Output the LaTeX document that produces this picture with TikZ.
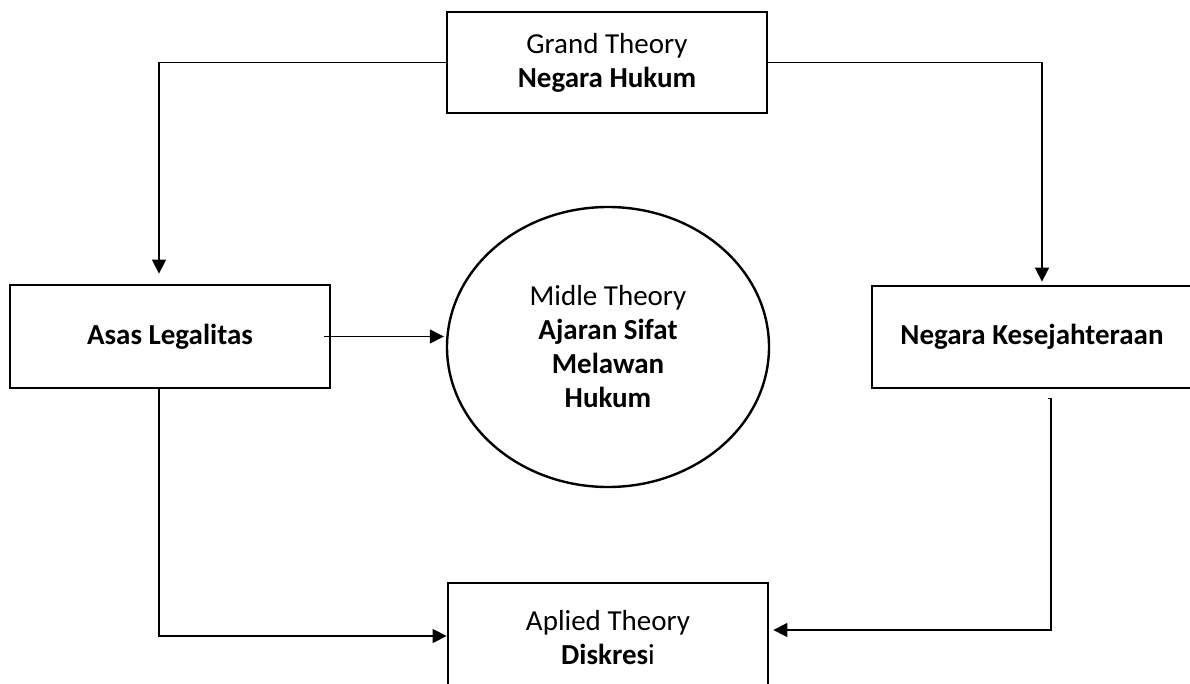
\documentclass[tikz,border=0pt]{standalone}
\usepackage{fontspec}
\setmainfont{Carlito}
\usetikzlibrary{arrows.meta,shapes.geometric}
\begin{document}
\begin{tikzpicture}[x=1pt,y=-1pt,
  box/.style={draw, line width=2.8pt, minimum width=320pt, align=center, inner sep=0pt, font=\fontsize{29}{34}\selectfont},
  oval/.style={draw, ellipse, line width=2.4pt, minimum width=322pt, minimum height=280pt, inner sep=0pt, align=center, font=\fontsize{29}{34}\selectfont},
  conn/.style={line width=1.5pt, -{Triangle[length=14pt,width=14pt]}},
  plain/.style={line width=1.5pt}]
\useasboundingbox (0,0) rectangle (1190,684);
\clip (0,0) rectangle (1190,684);
\node[box, minimum height=101pt] (grand) at (607,62.5) {Grand Theory\\\textbf{Negara Hukum}};
\node[box, minimum height=103pt] (asas) at (170,336.5) {\textbf{Asas Legalitas}};
\node[box, minimum height=102pt] (kes) at (1032,337) {\textbf{Negara Kesejahteraan}};
\node[box, minimum height=110pt] (apl) at (608,638) {Aplied Theory\\\textbf{Diskres}i};
\node[oval] (mid) at (608,347) {Midle Theory\\\textbf{Ajaran Sifat}\\\textbf{Melawan}\\\textbf{Hukum}};
\draw[conn] (grand.west) -| ([xshift=-11pt,yshift=10pt]asas.north);
\draw[conn] (grand.east) -| ([xshift=10pt,yshift=3pt]kes.north);
\draw[conn] ([xshift=-7pt]asas.east) -- ([xshift=-2pt]asas.east -| mid.west);
\draw[conn] ([xshift=-11pt]asas.south) |- ([yshift=2pt]apl.west);
\draw[conn] ([xshift=16pt,yshift=-9pt]kes.south) -- ([xshift=19pt,yshift=-9pt]kes.south) |- ([xshift=4pt,yshift=8pt]apl.east);
\end{tikzpicture}
\end{document}
